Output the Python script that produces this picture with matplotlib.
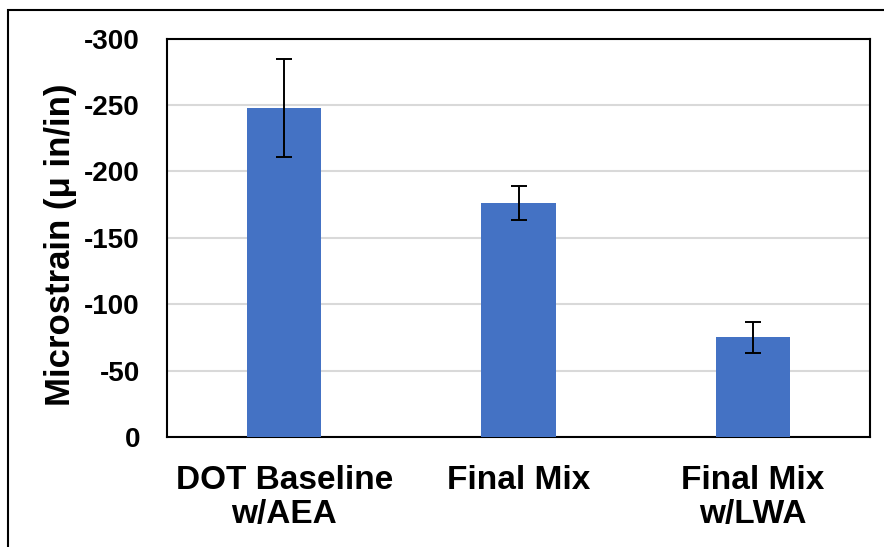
import matplotlib
matplotlib.use("Agg")
import matplotlib.pyplot as plt
from matplotlib.patches import Rectangle

categories = ["DOT Baseline\nw/AEA", "Final Mix", "Final Mix\nw/LWA"]
strain = [-247.5, -176, -75]
strain_err = [37, 13, 11.5]
yticks = [0, -50, -100, -150, -200, -250, -300]

plt.rcParams["font.family"] = ["Liberation Sans", "DejaVu Sans"]
plt.rcParams["font.weight"] = "bold"

W, H = 884, 547
fig = plt.figure(figsize=(W / 100, H / 100), dpi=100)

# outer chart frame
fig.patches.append(Rectangle((8 / W, -0.02), 1.1, 1 - 10 / H + 0.02,
                             transform=fig.transFigure, fill=False,
                             edgecolor="black", linewidth=1.5))

left, right, top, bottom = 167, 870, 38.5, 437
ax = fig.add_axes([left / W, 1 - bottom / H, (right - left) / W, (bottom - top) / H])

x = range(len(categories))
ax.bar(x, strain, width=0.316, color="#4472C4", zorder=3,
       yerr=strain_err, error_kw=dict(ecolor="black", elinewidth=1.4,
                                      capsize=5.5, capthick=1.4, zorder=4))

ax.set_xlim(-0.5, 2.5)
ax.set_ylim(0, -300)
ax.set_yticks(yticks)
ax.set_yticklabels([str(v) for v in yticks], fontsize=20, fontweight="bold")
ax.set_xticks(list(x))
ax.set_xticklabels(categories, fontsize=24, fontweight="bold", linespacing=1.1)
ax.tick_params(axis="y", length=0, pad=19.5)
ax.tick_params(axis="x", length=0, pad=20.5)
ax.yaxis.grid(True, color="#d9d9d9", linewidth=1.5, zorder=0)
ax.set_axisbelow(True)
for s in ax.spines.values():
    s.set_color("black")
    s.set_linewidth(1.5)

ax.set_ylabel("Microstrain (μ in/in)", fontsize=25, fontweight="bold")
ax.yaxis.set_label_coords(-0.128, 0.482)

fig.savefig("out.png", dpi=100)
